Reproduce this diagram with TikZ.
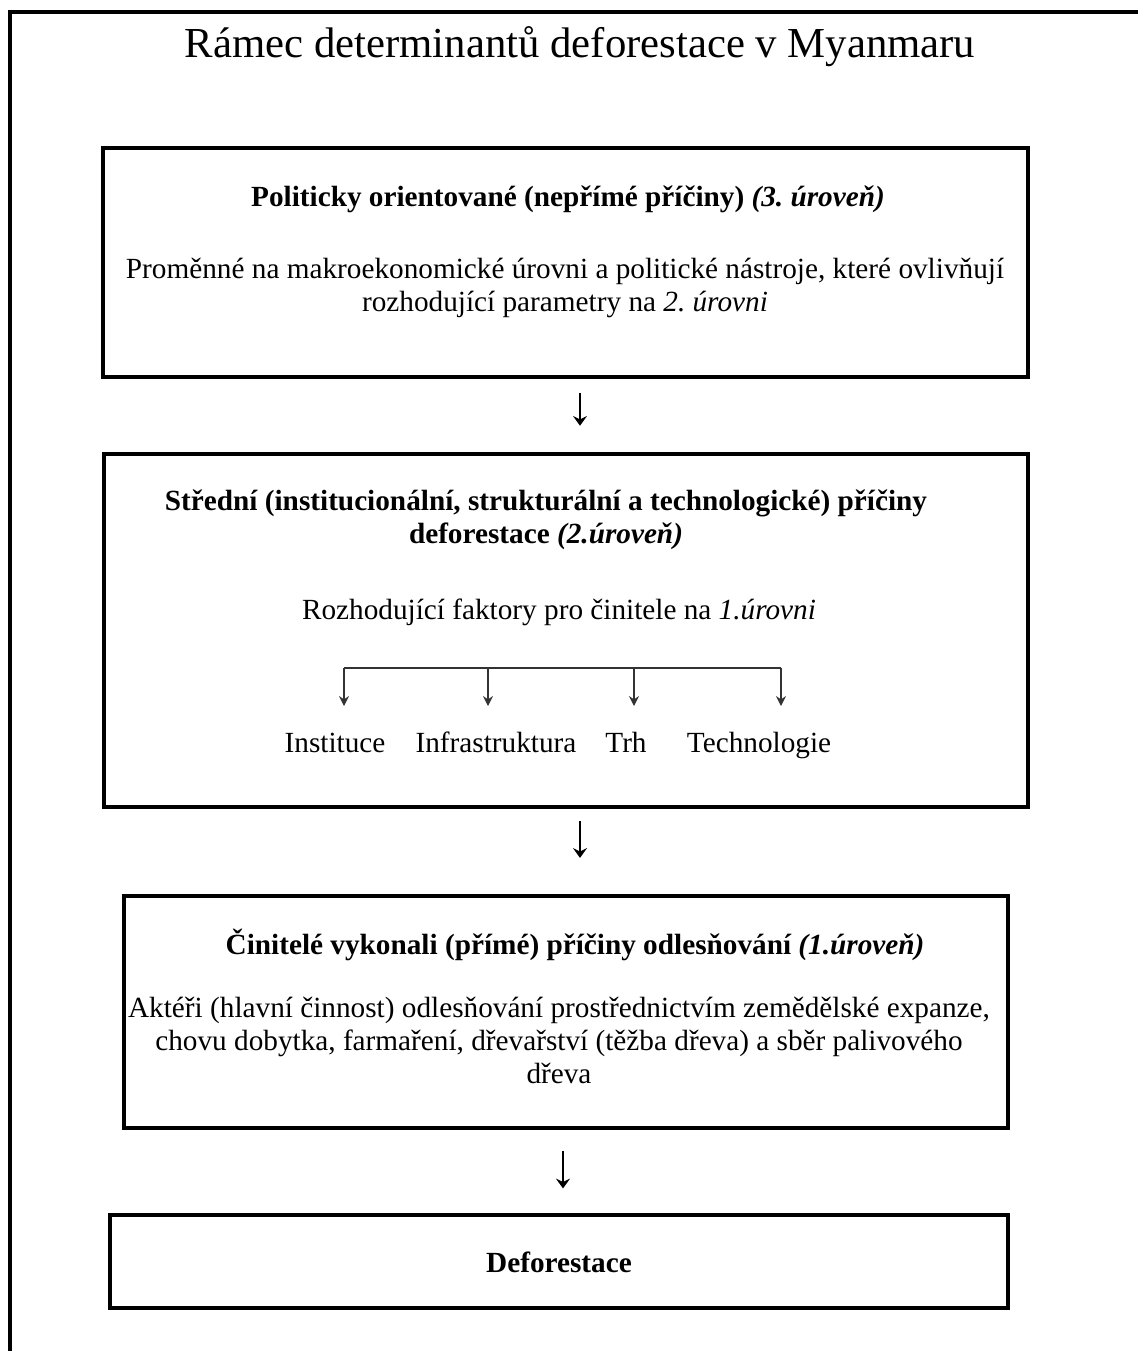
\documentclass[tikz,border=0pt]{standalone}
\usepackage{fontspec}
\setmainfont{Liberation Serif}
\frenchspacing
\usetikzlibrary{arrows.meta,fit}
\tikzset{
	box/.style={draw,line width=2.2pt,inner sep=0pt},
	head/.style={font=\bfseries\fontsize{20.8}{23.5}\selectfont,align=center,inner sep=0pt},
	body/.style={font=\fontsize{20.8}{23.5}\selectfont,align=center,inner sep=0pt},
	flow/.style={line width=0.9pt,-{Stealth[length=7pt,width=10pt,inset=2.5pt]}},
	fork/.style={line width=1.5pt,draw=black!80},
}
\begin{document}
\begin{tikzpicture}[x=0.025cm,y=-0.025cm]
	\useasboundingbox (0,0) rectangle (1138,1351);
	\draw[line width=2.2pt] (1138,12) -- (10,12) -- (10,1351);
	\node[font=\fontsize{30.4}{36}\selectfont,inner sep=0pt] (title) at (580,47) {Rámec determinantů deforestace v Myanmaru};

	\node[box,fit={(103,148) (1028,377)}] (b1) {};
	\node[head] (h1) at (568,199) {Politicky orientované (nepřímé příčiny) \textit{(3. úroveň)}};
	\node[body] (t1) at (565,288) {Proměnné na makroekonomické úrovni a politické nástroje, které ovlivňují\\rozhodující parametry na \textit{2. úrovni}};

	\node[box,fit={(104,454) (1028,807)}] (b2) {};
	\node[head] (h2) at (546,520) {Střední (institucionální, strukturální a technologické) příčiny\\deforestace \textit{(2.úroveň)}};
	\node[body] (t2) at (559,612) {Rozhodující faktory pro činitele na \textit{1.úrovni}};
	\foreach \x [count=\i] in {344,488,634,781}{
		\coordinate (k\i) at (\x,668);
		\coordinate (e\i) at (\x,706);
		\draw[fork,-{Stealth[length=7pt,width=7pt]}] (k\i) -- (e\i);
	}
	\draw[fork] (k1) -- (k4);
	\foreach \t/\x [count=\i] in {Instituce/335,Infrastruktura/496,Trh/626,Technologie/759}{
		\node[body,anchor=base] (f\i) at (\x,752) {\t};
	}

	\node[box,fit={(124,896) (1008,1128)}] (b3) {};
	\node[head] (h3) at (575,945) {Činitelé vykonali (přímé) příčiny odlesňování \textit{(1.úroveň)}};
	\node[body] (t3) at (559,1040) {Aktéři (hlavní činnost) odlesňování prostřednictvím zemědělské expanze,\\chovu dobytka, farmaření, dřevařství (těžba dřeva) a sběr palivového\\dřeva};

	\node[box,fit={(110,1215) (1008,1308)}] (b4) {};
	\node[head] (h4) at (559,1262) {Deforestace};

	\coordinate (x1) at (580,0);
	\coordinate (x2) at (580,0);
	\coordinate (x3) at (563,0);
	\draw[flow,shorten <=10pt,shorten >=19pt] (b1.south -| x1) -- (b2.north -| x1);
	\draw[flow,shorten <=9pt,shorten >=26pt] (b2.south -| x2) -- (b3.north -| x2);
	\draw[flow,shorten <=15.6pt,shorten >=17.8pt] (b3.south -| x3) -- (b4.north -| x3);
\end{tikzpicture}
\end{document}
